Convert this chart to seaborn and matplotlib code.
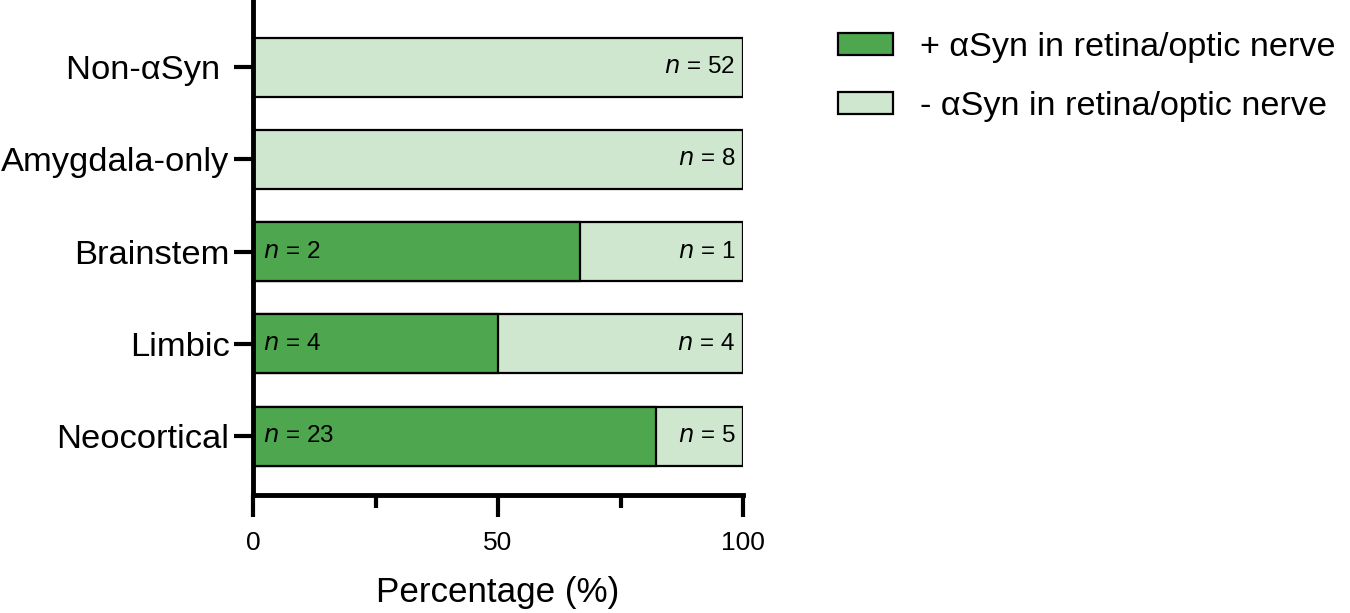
import matplotlib
matplotlib.use("Agg")
import matplotlib.pyplot as plt
from matplotlib.patches import Patch
from matplotlib.ticker import MultipleLocator
import seaborn as sns
import pandas as pd

categories = ["Non-αSyn", "Amygdala-only", "Brainstem", "Limbic", "Neocortical"]
ytick_labels = ["Non-αSyn ", "Amygdala-only", "Brainstem", "Limbic", "Neocortical"]
pos_counts = [0, 0, 2, 4, 23]
neg_counts = [52, 8, 1, 4, 5]
legend_labels = ["+ αSyn in retina/optic nerve", "- αSyn in retina/optic nerve"]
xticks = [0, 50, 100]

dark = "#4EA64E"
light = "#CFE7CF"

sns.set_theme(style="white")
plt.rcParams["font.family"] = ["Liberation Sans", "DejaVu Sans"]
plt.rcParams["text.color"] = "black"
plt.rcParams["axes.labelcolor"] = "black"
plt.rcParams["xtick.color"] = "black"
plt.rcParams["ytick.color"] = "black"

df = pd.DataFrame({"cat": categories, "pos": pos_counts, "neg": neg_counts})
df["total"] = df["pos"] + df["neg"]
df["pos_pct"] = df["pos"] / df["total"] * 100
df["all_pct"] = (df["pos"] + df["neg"]) / df["total"] * 100

fig = plt.figure(figsize=(13.5, 6.13), dpi=100)
ax = fig.add_axes([253/1350, 1 - 495/613, 490/1350, 495/613])

sns.barplot(data=df, y="cat", x="all_pct", orient="h", color=light, saturation=1,
            width=0.64, edgecolor="black", linewidth=1.6, ax=ax, order=categories)
sns.barplot(data=df, y="cat", x="pos_pct", orient="h", color=dark, saturation=1,
            width=0.64, edgecolor="black", linewidth=1.6, ax=ax, order=categories)

ax.set_xlim(0, 100)
ax.set_ylim(len(categories) - 1 + 0.64, -0.73)

for i, row in df.iterrows():
    if row["pos"] > 0:
        ax.text(2, i, r"$\it{n}$" + f" = {row['pos']}", va="center", ha="left", fontsize=17.5, color="black")
    if row["neg"] > 0:
        ax.text(98.4, i, r"$\it{n}$" + f" = {row['neg']}", va="center", ha="right", fontsize=17.5, color="black")

ax.set_yticks(range(len(categories)))
ax.set_yticklabels(ytick_labels)
ax.set_xticks(xticks)
ax.xaxis.set_minor_locator(MultipleLocator(25))
ax.tick_params(axis="x", which="major", length=16, width=3, direction="out", labelsize=19, pad=10, bottom=True)
ax.tick_params(axis="x", which="minor", length=9, width=3, direction="out", bottom=True)
ax.tick_params(axis="y", length=14, width=3, direction="out", labelsize=24.8, pad=3, left=True)

for s in ["top", "right"]:
    ax.spines[s].set_visible(False)
for s in ["left", "bottom"]:
    ax.spines[s].set_linewidth(3.5)
    ax.spines[s].set_color("black")

ax.set_ylabel("")
ax.set_xlabel("Percentage (%)", fontsize=25.2, labelpad=15)

handles = [Patch(facecolor=dark, edgecolor="black", linewidth=1.6),
           Patch(facecolor=light, edgecolor="black", linewidth=1.6)]
fig.legend(handles, legend_labels, loc="upper left", bbox_to_anchor=(838/1350, 1 - 32/613),
           frameon=False, fontsize=24.6, handlelength=1.6, handleheight=0.6,
           handletextpad=0.8, labelspacing=0.82, borderpad=0, borderaxespad=0)

fig.savefig("out.png", dpi=100)
